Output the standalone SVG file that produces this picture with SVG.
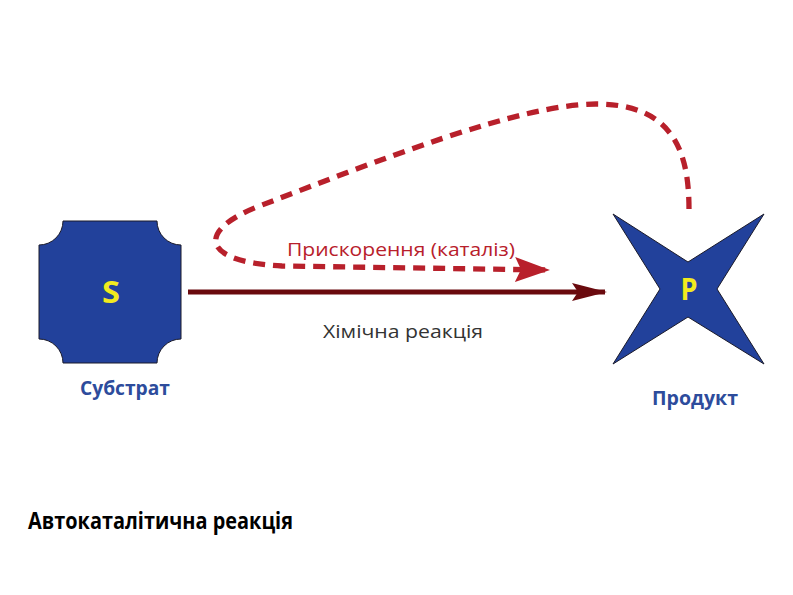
<svg xmlns="http://www.w3.org/2000/svg" width="793" height="595" viewBox="0 0 793 595">
<defs>
<style>
.node{fill:#22419b;stroke:#1a1a2a;stroke-width:1}
.sym{font-family:"Open Sans","DejaVu Sans",sans-serif;font-weight:bold;fill:#f2ea1e;text-anchor:middle}
.lbl{font-family:"Open Sans","DejaVu Sans",sans-serif;font-weight:bold;fill:#2d4c9c;font-size:20px}
.edge-l{font-family:"Open Sans","DejaVu Sans",sans-serif;font-size:18px}
.title{font-family:"Open Sans","DejaVu Sans",sans-serif;font-weight:bold;font-size:23px;fill:#000000}
</style>
<marker id="ahDark" viewBox="0 0 35 18" refX="33" refY="9" markerWidth="35" markerHeight="18" orient="auto" markerUnits="userSpaceOnUse">
<path d="M0 0 L35 9 L0 18 L6 9 Z" fill="#6a0a0e"/>
</marker>
<marker id="ahRed" viewBox="0 0 35 25" refX="33" refY="12.5" markerWidth="35" markerHeight="25" orient="auto" markerUnits="userSpaceOnUse">
<path d="M0 0 L35 12.5 L0 25 L6 12.5 Z" fill="#b8202b"/>
</marker>
</defs>
<rect width="793" height="595" fill="#ffffff"/>
<g id="connectors">
<line x1="188" y1="292" x2="605" y2="292" stroke="#6a0a0e" stroke-width="5" marker-end="url(#ahDark)"/>
<path d="M689 209 C689 150 672 104 596 104 C520 104 380 160 262 205 C195 230 200 262 282 266 L548 270" fill="none" stroke="#b8202b" stroke-width="5.3" stroke-dasharray="12 8" marker-end="url(#ahRed)"/>
<text class="edge-l" x="401" y="256" text-anchor="middle" fill="#b8202b" textLength="228" lengthAdjust="spacingAndGlyphs">Прискорення (каталіз)</text>
<text class="edge-l" x="403" y="338" text-anchor="middle" fill="#333333" textLength="160" lengthAdjust="spacingAndGlyphs">Хімічна реакція</text>
</g>
<g id="node-S">
<path class="node" d="M63 221 L157 221 A24 24 0 0 0 181 245 L181 339 A24 24 0 0 0 157 363 L63 363 A24 24 0 0 0 39 339 L39 245 A24 24 0 0 0 63 221 Z"/>
<text class="sym" x="111" y="303" font-size="30" textLength="18" lengthAdjust="spacingAndGlyphs">S</text>
<text class="lbl" x="125" y="395" text-anchor="middle" textLength="90" lengthAdjust="spacingAndGlyphs">Субстрат</text>
</g>
<g id="node-P">
<path class="node" d="M613 214 L688 262 L764 214 L717 289 L764 364 L688 317 L613 364 L660 289 Z"/>
<text class="sym" x="689" y="300" font-size="30" textLength="17" lengthAdjust="spacingAndGlyphs">P</text>
<text class="lbl" x="695" y="405" text-anchor="middle" textLength="86" lengthAdjust="spacingAndGlyphs">Продукт</text>
</g>
<g id="title">
<text class="title" x="28" y="529" textLength="265" lengthAdjust="spacingAndGlyphs">Автокаталітична реакція</text>
</g>
</svg>
